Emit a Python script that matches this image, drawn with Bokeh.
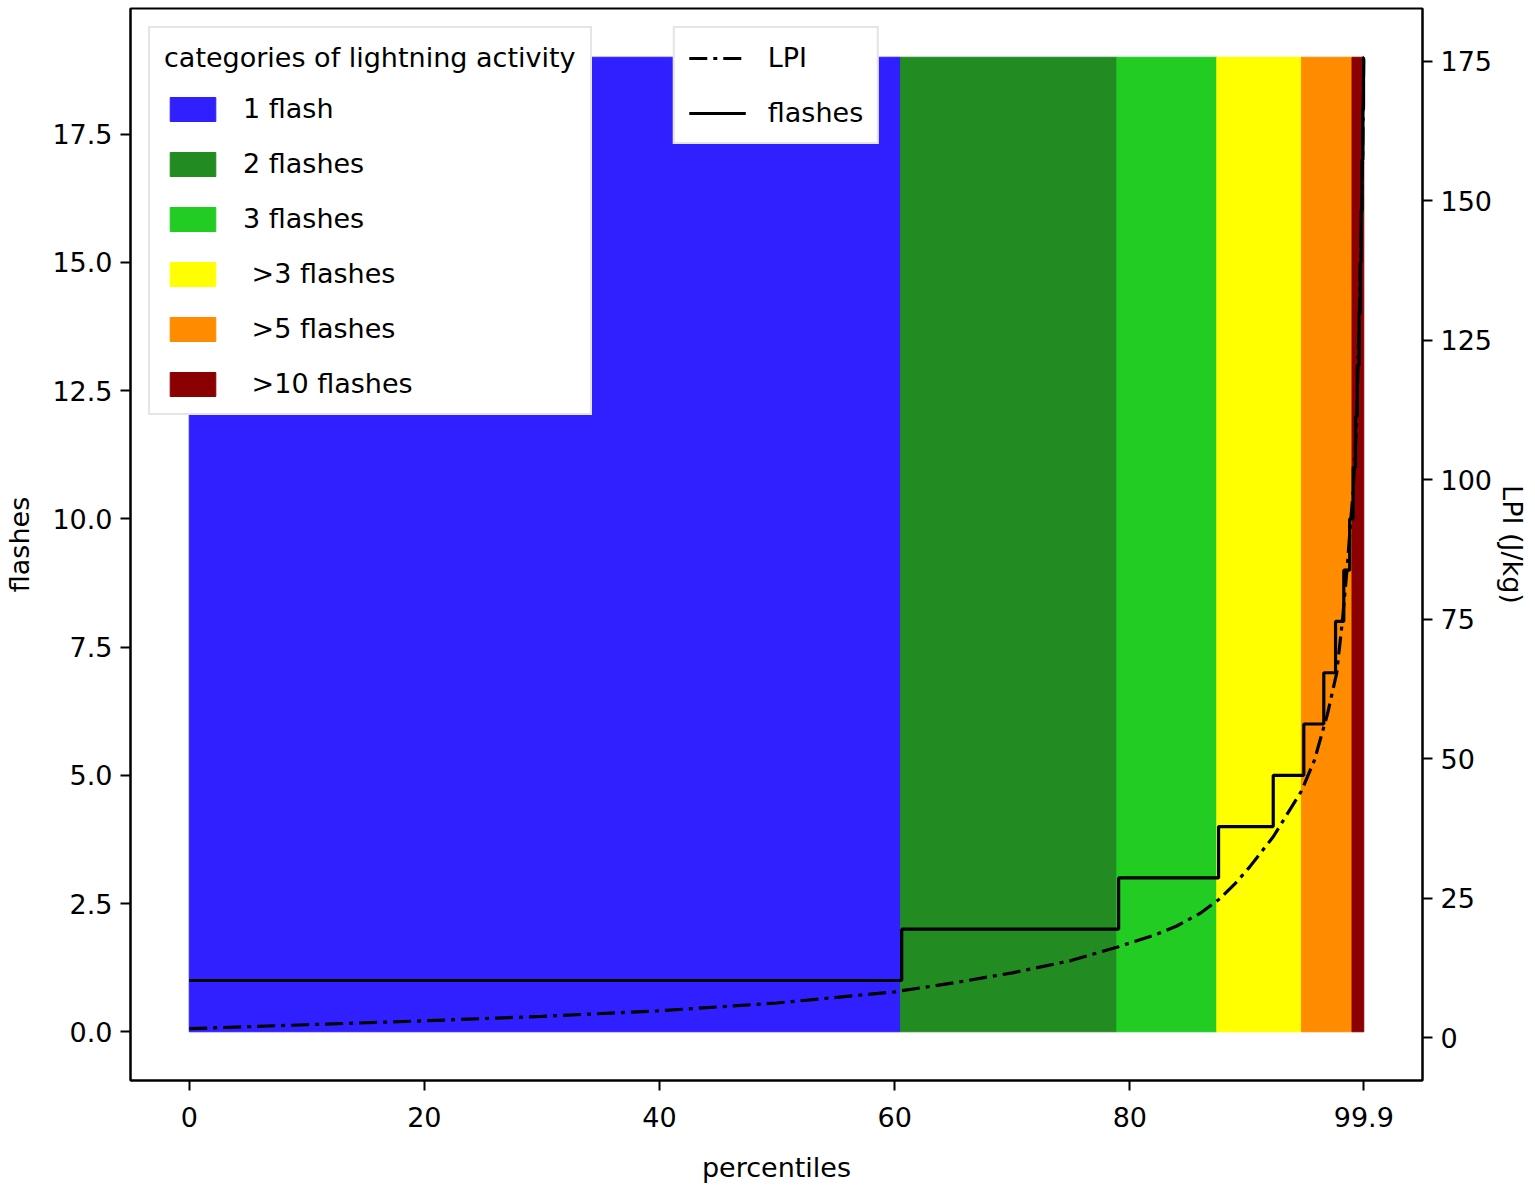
from bokeh.plotting import figure
from bokeh.models import (ColumnDataSource, Range1d, LinearAxis, FixedTicker,
                          Legend, LegendItem, NumeralTickFormatter)
from bokeh.embed import file_html
from bokeh.resources import INLINE

# ---------------- data ----------------
cat_labels = ["1 flash", "2 flashes", "3 flashes", " >3 flashes", " >5 flashes", " >10 flashes"]
cat_left = [0.0, 60.5, 78.9, 87.4, 94.6, 98.9]
cat_right = [60.5, 78.9, 87.4, 94.6, 98.9, 99.9]
cat_top = [19, 19, 19, 19, 19, 19]
cat_colors = ["#3020ff", "#228b22", "#22cc22", "#ffff00", "#ff8c00", "#8b0000"]

flash_pct = [0.0, 60.6, 79.05, 87.55, 92.2, 94.8, 96.5, 97.5, 98.2, 98.7, 99.0,
             99.2, 99.35, 99.5, 99.6, 99.68, 99.75, 99.82, 99.88, 99.9]
flash_val = [1, 2, 3, 4, 5, 6, 7, 8, 9, 10, 11, 12, 13, 14, 15, 16, 17, 18, 19, 19]

lpi_pct = [0, 10, 20, 30, 40, 50, 60, 65, 70, 75, 78.9, 82, 84, 86, 87.6, 89,
           90.2, 92.2, 94.6, 95.7, 96.8, 97.6, 98.1, 98.5, 98.8, 99.0, 99.3,
           99.6, 99.8, 99.9]
lpi_val = [1.6, 2.3, 3.0, 3.8, 4.8, 6.2, 8.2, 9.8, 11.6, 13.8, 16.2, 18.3, 20.0,
           22.3, 24.8, 27.7, 30.6, 36.0, 44.2, 49.7, 57.9, 65.4, 75.1, 84.6,
           92.9, 98.0, 111.0, 137.0, 158.0, 175.8]

x_tick_vals = [0, 20, 40, 60, 80, 99.9]
x_tick_labels = ["0", "20", "40", "60", "80", "99.9"]
y_tick_vals = [0, 2.5, 5, 7.5, 10, 12.5, 15, 17.5]
lpi_tick_vals = [0, 25, 50, 75, 100, 125, 150, 175]

FONT = "DejaVu Sans"
FS = "27px"

W, H = 1534, 1188
FRAME_L, FRAME_R, FRAME_T, FRAME_B = 130, 1422, 8, 1080

p = figure(width=W, height=H, output_backend="svg", toolbar_location=None,
           x_range=Range1d(-4.995, 104.895), y_range=Range1d(-0.95, 19.95),
           min_border_left=FRAME_L, min_border_right=W - FRAME_R,
           min_border_top=FRAME_T, min_border_bottom=H - FRAME_B)
p.extra_y_ranges = {"lpi": Range1d(-7.7, 184.5)}

p.xgrid.visible = False
p.ygrid.visible = False
p.outline_line_color = "black"
p.outline_line_width = 2
p.background_fill_color = "white"

src = ColumnDataSource(dict(left=cat_left, right=cat_right, top=cat_top,
                            bottom=[0] * len(cat_left), color=cat_colors,
                            label=cat_labels))
bars = p.quad(left="left", right="right", top="top", bottom="bottom",
              fill_color="color", line_color="color", line_width=1, source=src)

step_r = p.step(flash_pct, flash_val, mode="after", line_color="black", line_width=3.2)
lpi_r = p.line(lpi_pct, lpi_val, y_range_name="lpi", line_color="black",
               line_width=3.2, line_dash="18 6 4 6")

# axes
p.xaxis.ticker = FixedTicker(ticks=x_tick_vals)
p.xaxis.major_label_overrides = {v: l for v, l in zip(x_tick_vals, x_tick_labels)}
p.xaxis.axis_label = "percentiles"
p.yaxis.ticker = FixedTicker(ticks=y_tick_vals)
p.yaxis.formatter = NumeralTickFormatter(format="0.0")
p.yaxis.axis_label = "flashes"

right_axis = LinearAxis(y_range_name="lpi", axis_label="LPI (J/kg)",
                        ticker=FixedTicker(ticks=lpi_tick_vals))
p.add_layout(right_axis, "right")

for ax in [p.xaxis[0], p.yaxis[0], right_axis]:
    ax.axis_line_width = 2
    ax.axis_line_color = "black"
    ax.major_tick_line_width = 2
    ax.major_tick_line_color = "black"
    ax.major_tick_in = 0
    ax.major_tick_out = 10
    ax.minor_tick_line_color = None
    ax.major_label_text_font = FONT
    ax.major_label_text_font_size = FS
    ax.major_label_text_color = "black"
    ax.axis_label_text_font = FONT
    ax.axis_label_text_font_size = FS
    ax.axis_label_text_font_style = "normal"
    ax.axis_label_text_color = "black"
    ax.major_label_standoff = 10

p.xaxis[0].major_label_standoff = 16
p.xaxis[0].axis_label_standoff = 22
p.yaxis[0].major_label_standoff = 8
p.yaxis[0].axis_label_standoff = 14
right_axis.major_label_standoff = 8
right_axis.axis_label_standoff = 2

# legends
items1 = [LegendItem(label=cat_labels[i], renderers=[bars], index=i)
          for i in range(len(cat_labels))]
leg1 = Legend(items=items1, location="top_left", title="categories of lightning activity")
items2 = [LegendItem(label="LPI", renderers=[lpi_r]),
          LegendItem(label="flashes", renderers=[step_r])]
leg2 = Legend(items=items2, location="top_center")

for lg, pad in [(leg1, 14), (leg2, 14)]:
    lg.margin = 18
    lg.padding = pad
    lg.spacing = 24
    lg.glyph_width = 57
    lg.glyph_height = 30
    lg.label_height = 30
    lg.label_standoff = 22
    lg.label_text_font = FONT
    lg.label_text_font_size = FS
    lg.label_text_color = "black"
    lg.border_line_color = "#cccccc"
    lg.border_line_width = 2
    lg.background_fill_color = "white"
    lg.background_fill_alpha = 1.0

leg1.title_text_font = FONT
leg1.title_text_font_size = FS
leg1.title_text_font_style = "normal"
leg1.title_text_color = "black"
leg1.title_standoff = 20

p.add_layout(leg1)
p.add_layout(leg2)

open("out.html", "w").write(file_html(p, INLINE))
